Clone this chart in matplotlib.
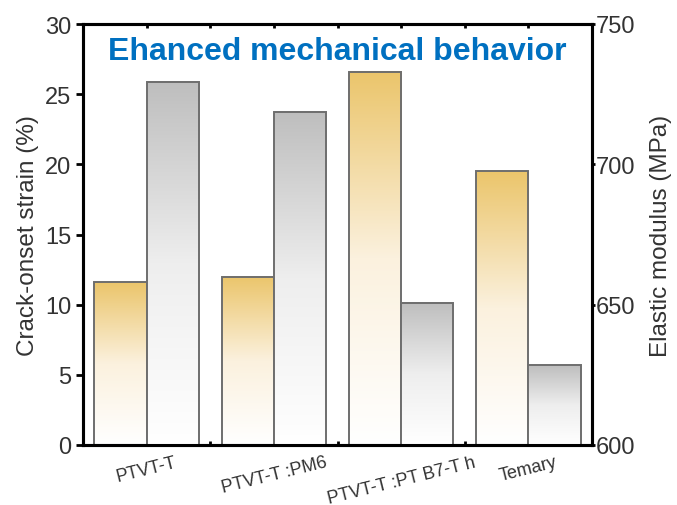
import numpy as np
import matplotlib
matplotlib.use('Agg')
import matplotlib.pyplot as plt
from matplotlib.colors import LinearSegmentedColormap

plt.rcParams['font.family'] = ['Liberation Sans', 'DejaVu Sans']

samples = ['PTVT-T', 'PTVT-T :PM6', 'PTVT-T :PT B7-T h', 'Temary']
crack_strain = [11.6, 12.0, 26.6, 19.5]          # %
elastic_modulus = [729.5, 718.8, 650.6, 628.5]  # MPa

orange_map = LinearSegmentedColormap.from_list('o', ['#ffffff', '#fbf1de', '#ebc56b'])
grey_map = LinearSegmentedColormap.from_list('g', ['#ffffff', '#eeeeee', '#bebebe'])
grad = np.linspace(0, 1, 256).reshape(-1, 1)


def gradient_bar(ax, x0, width, bottom, top, cmap):
    ax.imshow(grad, cmap=cmap, origin='lower', aspect='auto',
              extent=[x0, x0 + width, bottom, top], zorder=1)
    ax.bar(x0, top - bottom, width=width, bottom=bottom, align='edge',
           facecolor='none', edgecolor='#6e6e6e', linewidth=1.4, zorder=2)


fig = plt.figure(figsize=(6.77, 5.06), dpi=100)
ax = fig.add_axes([83 / 677, 60 / 506, 509 / 677, 421 / 506])
ax2 = ax.twinx()

w = 0.41
x = np.arange(1, len(samples) + 1)
for i in range(len(samples)):
    gradient_bar(ax, x[i] - w, w, 0, crack_strain[i], orange_map)
    gradient_bar(ax2, x[i], w, 600, elastic_modulus[i], grey_map)

ax.set_xlim(0.5, 4.5)
ax.set_ylim(0, 30)
ax2.set_ylim(600, 750)
ax.set_yticks(range(0, 31, 5))
ax2.set_yticks([600, 650, 700, 750])

ax.set_xticks(x)
ax.set_xticklabels(samples, rotation=14, ha='center', fontsize=13, color='#333333')
ax.set_xticks(np.arange(0.5, 4.6, 0.5), minor=True)
ax.tick_params(axis='x', which='both', direction='in', length=3, width=2,
               top=True, pad=6)
ax.tick_params(axis='y', direction='out', length=5, width=2,
               labelsize=17, labelcolor='#333333')
ax2.tick_params(axis='y', direction='out', length=2, width=2,
                labelsize=17, labelcolor='#333333', pad=1)

for a in (ax, ax2):
    for s in a.spines.values():
        s.set_linewidth(2.2)
        s.set_color('black')

ax.set_ylabel('Crack-onset strain (%)', fontsize=17.5, color='#333333', labelpad=4)
ax2.set_ylabel('Elastic modulus (MPa)', fontsize=17.5, color='#333333', labelpad=10)

ax.text(0.5, 0.935, 'Ehanced mechanical behavior', transform=ax.transAxes,
        ha='center', va='center', fontsize=23, fontweight='bold', color='#0070c0',
        zorder=5)

fig.savefig('out.png', dpi=100)
